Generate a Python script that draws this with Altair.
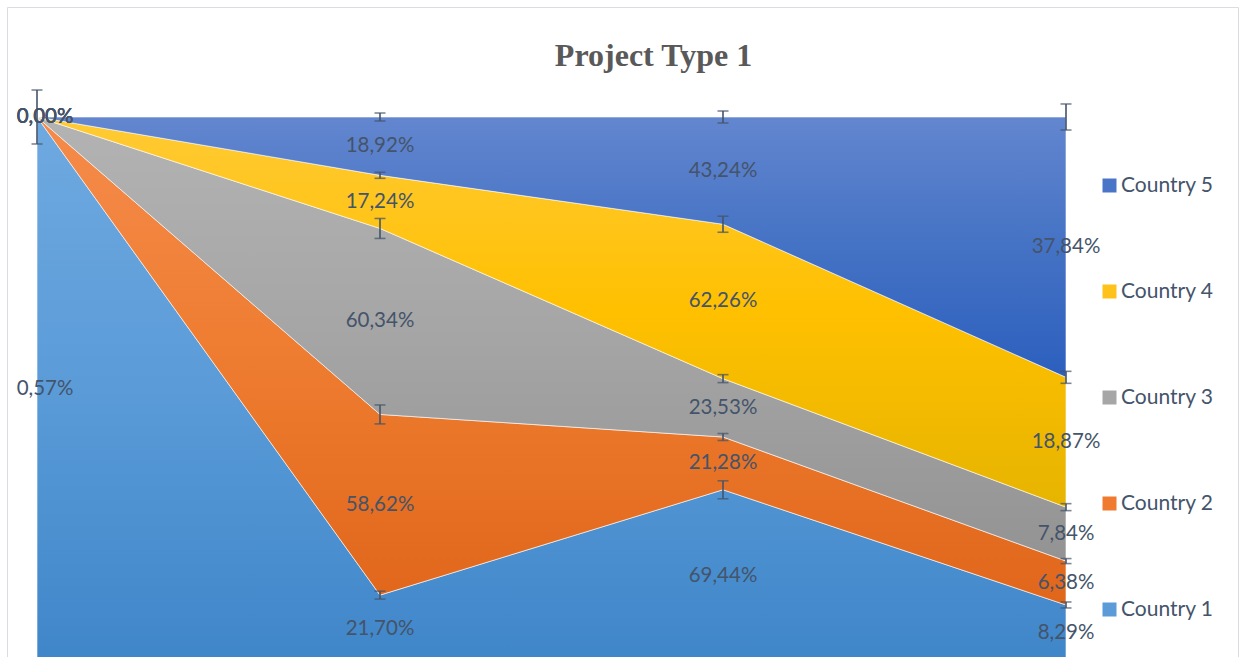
import altair as alt
import pandas as pd

# Periods along the horizontal axis (no axis drawn)
periods = [0, 1, 2, 3]
countries = ["Country 1", "Country 2", "Country 3", "Country 4", "Country 5"]

# Series values (%), stacked to 100 % at each period
country_1 = [0.57, 21.70, 69.44, 8.29]
country_2 = [0.00, 58.62, 21.28, 6.38]
country_3 = [0.00, 60.34, 23.53, 7.84]
country_4 = [0.00, 17.24, 62.26, 18.87]
country_5 = [0.00, 18.92, 43.24, 37.84]

# Error-bar half lengths, in percentage points of the 100 % axis
err_1 = [0.00, 0.73, 1.65, 0.55]
err_2 = [0.00, 1.74, 0.64, 0.46]
err_3 = [0.00, 1.83, 0.73, 0.64]
err_4 = [0.00, 0.55, 1.47, 1.10]
err_5 = [4.95, 0.73, 1.10, 2.39]

series_values = [country_1, country_2, country_3, country_4, country_5]
series_errors = [err_1, err_2, err_3, err_4, err_5]

# Vertical gradient (top, middle, bottom) for each band
gradients = [
    ("#6fa9e0", "#5a9bd8", "#3f86c9"),
    ("#f58b4b", "#ee7c30", "#e0661a"),
    ("#b3b3b3", "#a5a5a5", "#939393"),
    ("#ffca35", "#ffc000", "#e6b400"),
    ("#6386cf", "#4472c4", "#2c5fbe"),
]
legend_order = ["Country 5", "Country 4", "Country 3", "Country 2", "Country 1"]
legend_colors = ["#4a74c8", "#ffc21a", "#a6a6a6", "#ef7a30", "#5a9bd8"]

INK = "#44546a"
SANS = "Lato"

rows = []
for i, (name, vals, errs) in enumerate(zip(countries, series_values, series_errors)):
    for p, v, e in zip(periods, vals, errs):
        rows.append({"period": p, "country": name, "order": i, "value": v, "err": e})
df = pd.DataFrame(rows)

x_enc = alt.X("period:Q", scale=alt.Scale(domain=[0, 3], nice=False, zero=False), axis=None)
y_scale = alt.Scale(domain=[0.00917, 1], nice=False, zero=False)

base = alt.Chart(df).transform_stack(
    stack="value",
    groupby=["period"],
    as_=["y0", "y1"],
    offset="normalize",
    sort=[alt.SortField("order", order="ascending")],
)

layers = []

# Chart frame
frame = alt.Chart(pd.DataFrame({"k": [0]})).mark_rect(
    fillOpacity=0, stroke="#d9dde3", strokeWidth=1
).encode(
    x=alt.value(-29.5), x2=alt.value(1201.5), y=alt.value(-109.5), y2=alt.value(600)
)
layers.append(frame)

# Stacked bands, one layer per country so each gets its own gradient
for name, (top, mid, bottom) in zip(countries, gradients):
    layers.append(
        base.transform_filter(alt.datum.country == name)
        .mark_area(
            color=alt.Gradient(
                gradient="linear", x1=0, y1=0, x2=0, y2=1,
                stops=[alt.GradientStop(color=top, offset=0),
                       alt.GradientStop(color=mid, offset=0.5),
                       alt.GradientStop(color=bottom, offset=1)],
            ),
            stroke="white", strokeWidth=1, strokeOpacity=0.6, clip=True,
        )
        .encode(x=x_enc, y=alt.Y("y1:Q", scale=y_scale, axis=None), y2="y0:Q")
    )

# Error bars at the top edge of each band
err = base.transform_filter("datum.err > 0").transform_calculate(
    lo="datum.y1 - datum.err / 100", hi="datum.y1 + datum.err / 100"
)
layers.append(
    err.mark_rule(color=INK, strokeWidth=1.6).encode(
        x=x_enc, y=alt.Y("lo:Q", scale=y_scale, axis=None), y2="hi:Q"
    )
)
for end in ["lo", "hi"]:
    layers.append(
        err.mark_tick(color=INK, thickness=1.6, size=11, orient="horizontal").encode(
            x=x_enc, y=alt.Y(f"{end}:Q", scale=y_scale, axis=None)
        )
    )

# Value labels centred in each band
labels = base.transform_calculate(
    mid="(datum.y0 + datum.y1) / 2",
    label="replace(format(datum.value / 100, '.2%'), '.', ',')",
)
for cond, dx in [("datum.period == 0", 8), ("datum.period != 0", 0)]:
    layers.append(
        labels.transform_filter(cond)
        .mark_text(font=SANS, fontSize=20.5, color=INK, dx=dx)
        .encode(x=x_enc, y=alt.Y("mid:Q", scale=y_scale, axis=None), text="label:N")
    )

# Invisible layer that carries the legend
layers.append(
    alt.Chart(df)
    .mark_point(shape="square", filled=True, opacity=0)
    .encode(
        x=alt.value(0),
        y=alt.value(0),
        color=alt.Color(
            "country:N",
            scale=alt.Scale(domain=legend_order, range=legend_colors),
            legend=alt.Legend(
                title=None,
                orient="none",
                legendX=1062,
                legendY=58,
                symbolType="square",
                symbolSize=196,
                symbolOpacity=1,
                symbolStrokeWidth=0,
                labelFont=SANS,
                labelFontSize=21,
                labelColor=INK,
                labelOffset=1,
                rowPadding=84,
                padding=0,
            ),
        ),
    )
)

# The title sits above the content bounds, whose top is the frame edge;
# a negative offset brings it back down inside the frame.
chart = (
    alt.layer(*layers)
    .properties(
        width=1029,
        height=540,
        padding={"left": 37, "top": 117, "right": 177, "bottom": 0},
        autosize=alt.AutoSizeParams(type="none"),
        title=alt.TitleParams(
            "Project Type 1",
            font="Liberation Serif",
            fontSize=32,
            fontWeight="bold",
            color="#595959",
            anchor="middle",
            frame="group",
            dx=102,
            offset=-91,
            baseline="alphabetic",
        ),
        background="white",
    )
    .configure_view(strokeWidth=0)
)

chart.save("out.html", embed_options={"renderer": "svg", "actions": False})
